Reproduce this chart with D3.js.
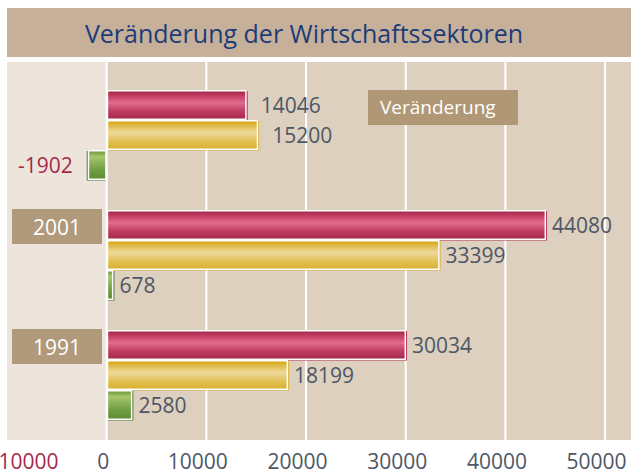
<!DOCTYPE html>
<html lang="de">
<head>
<meta charset="utf-8">
<script src="https://cdn.jsdelivr.net/npm/d3@7"></script>
<style>
  html, body { margin: 0; padding: 0; background: #ffffff; }
  svg { display: block; font-family: "Open Sans", "Noto Sans", sans-serif; }
</style>
</head>
<body>
<svg id="chart" width="631" height="474"></svg>
<script>
// Kategorien (von oben nach unten) und Werte je Wirtschaftssektor
const categories = ["Veränderung", "2001", "1991"];
const sectorKeys = ["tertiaer", "sekundaer", "primaer"];
const tertiaer  = [14046, 44080, 30034];
const sekundaer = [15200, 33399, 18199];
const primaer   = [-1902,   678,  2580];
const tickValues = [-10000, 0, 10000, 20000, 30000, 40000, 50000];
const titleText = "Veränderung der Wirtschaftssektoren";

const valuesByKey = { tertiaer, sekundaer, primaer };
const rows = categories.map((c, i) => ({
  category: c,
  bars: sectorKeys.map(k => ({ key: k, value: valuesByKey[k][i] }))
}));

// Farben und Verläufe der Balken
const palette = {
  tertiaer:  { stops: ["#9e2343", "#c94469", "#e06d8e", "#c13e62", "#a4274a"], edge: "#b03356" },
  sekundaer: { stops: ["#d6a40a", "#e3c15a", "#eed89c", "#e2c258", "#d8ae2c"], edge: "#d9b23a" },
  primaer:   { stops: ["#6b9a3a", "#a7c76c", "#8cb25a", "#6f9c40", "#5c8c33"], edge: "#4f7f2b" }
};
const stopOffsets = ["0%", "22%", "42%", "70%", "100%"];

const W = 631, H = 474;
const plot = { left: 7, right: 631, top: 62, bottom: 440 };
const svg = d3.select("#chart");

const defs = svg.append("defs");
sectorKeys.forEach(k => {
  const g = defs.append("linearGradient")
    .attr("id", "grad-" + k).attr("x1", 0).attr("y1", 0).attr("x2", 0).attr("y2", 1);
  palette[k].stops.forEach((c, i) => g.append("stop").attr("offset", stopOffsets[i]).attr("stop-color", c));
});

// Skalen
const x = d3.scaleLinear().domain([-10000, 52600]).range([plot.left, plot.right]);
const y0 = d3.scaleBand().domain(categories).range([60, 420]).padding(0);
const y1 = d3.scaleBand().domain(sectorKeys).range([y0.bandwidth() / 4, y0.bandwidth()]).padding(0);

// Titelleiste
svg.append("rect").attr("x", 7).attr("y", 8).attr("width", W - 7).attr("height", 49).attr("fill", "#c6b09a");
svg.append("text").attr("x", 304).attr("y", 43).attr("text-anchor", "middle")
  .attr("font-size", 25).attr("fill", "#1b3c78").text(titleText);

// Hintergrund: heller Bereich für negative Werte, dunkler für positive
svg.append("rect").attr("x", x(-10000)).attr("y", plot.top)
  .attr("width", x(0) - x(-10000)).attr("height", plot.bottom - plot.top).attr("fill", "#ede5dc");
svg.append("rect").attr("x", x(0)).attr("y", plot.top)
  .attr("width", plot.right - x(0)).attr("height", plot.bottom - plot.top).attr("fill", "#ddd0bf");

// Gitterlinien
svg.append("g").selectAll("line").data(tickValues.filter(v => v >= 0)).join("line")
  .attr("x1", d => x(d)).attr("x2", d => x(d))
  .attr("y1", plot.top).attr("y2", plot.bottom)
  .attr("stroke", "#ffffff").attr("stroke-width", 2);

// Achsenbeschriftung
const axis = d3.axisBottom(x).tickValues(tickValues).tickSize(0).tickPadding(0).tickFormat(d3.format("d"));
const axisG = svg.append("g").attr("transform", `translate(0,${plot.bottom})`).call(axis);
axisG.select(".domain").remove();
axisG.selectAll(".tick text")
  .attr("font-family", "'Open Sans', sans-serif")
  .attr("font-size", 21)
  .attr("y", 29)
  .attr("dy", 0)
  .attr("fill", d => d < 0 ? "#a8284a" : "#4d5766")
  .attr("x", d => d === 0 ? -4 : Math.max(-9, 22 - x(d)));

// Balken
const groups = svg.append("g").selectAll("g").data(rows).join("g")
  .attr("transform", d => `translate(0,${y0(d.category)})`);

const bar = groups.selectAll("g.bar").data(d => d.bars).join("g").attr("class", "bar");

bar.append("rect")
  .attr("x", d => Math.min(x(0), x(d.value)) + (d.value < 0 ? -1 : 1))
  .attr("y", d => y1(d.key) + 1)
  .attr("width", d => Math.abs(x(d.value) - x(0)))
  .attr("height", y1.bandwidth() - 0.5)
  .attr("fill", d => palette[d.key].edge);

bar.append("rect")
  .attr("x", d => Math.min(x(0), x(d.value)) + 0.75)
  .attr("y", d => y1(d.key) + 0.75)
  .attr("width", d => Math.max(0, Math.abs(x(d.value) - x(0)) - 1.5))
  .attr("height", y1.bandwidth() - 1.5)
  .attr("fill", d => `url(#grad-${d.key})`)
  .attr("stroke", "#ffffff").attr("stroke-width", 1.5);

// Wertbeschriftungen
const labelGap = [14, 6, 6];
groups.each(function (row, gi) {
  d3.select(this).selectAll("text.val").data(row.bars).join("text")
    .attr("class", "val")
    .attr("x", d => d.value < 0 ? x(d.value) - 15 : x(d.value) + labelGap[gi])
    .attr("y", d => y1(d.key) + y1.bandwidth() / 2 + 7.5)
    .attr("text-anchor", d => d.value < 0 ? "end" : "start")
    .attr("font-size", 21)
    .attr("fill", d => d.value < 0 ? "#a8284a" : "#4d5766")
    .text(d => d.value);
});

// Kategoriebeschriftungen in Kästen
groups.each(function (row, gi) {
  const g = d3.select(this);
  const top = y1(sectorKeys[0]);
  if (gi === 0) {
    g.append("rect").attr("x", 368).attr("y", top).attr("width", 150).attr("height", 35).attr("fill", "#b09877");
    g.append("text").attr("x", 380).attr("y", top + 24).attr("font-size", 19).attr("fill", "#ffffff").text(row.category);
  } else {
    g.append("rect").attr("x", 12).attr("y", top - 1).attr("width", 90).attr("height", 35).attr("fill", "#b09a7b");
    g.append("text").attr("x", 57).attr("y", top + 25).attr("text-anchor", "middle")
      .attr("font-size", 21).attr("fill", "#ffffff").text(row.category);
  }
});
</script>
</body>
</html>
